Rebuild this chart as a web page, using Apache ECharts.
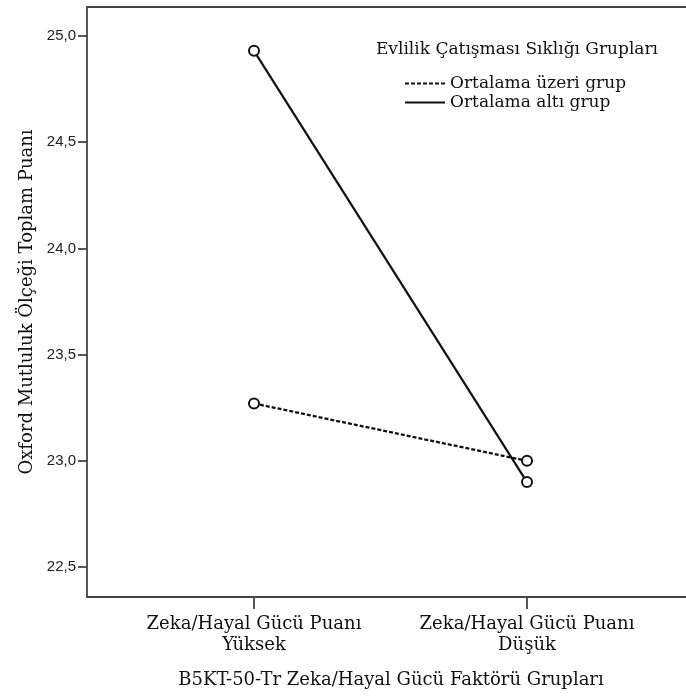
<!DOCTYPE html>
<html><head><meta charset="utf-8">
<script src="https://cdn.jsdelivr.net/npm/echarts@6/dist/echarts.min.js"></script>
<style>html,body{margin:0;padding:0;background:#fff}#c{width:686px;height:700px}</style>
</head><body><div id="c"></div>
<script>
const categories = ['Zeka/Hayal Gücü Puanı\nYüksek', 'Zeka/Hayal Gücü Puanı\nDüşük'];
const seriesNames = ['Ortalama üzeri grup', 'Ortalama altı grup'];
const aboveGroup = [23.27, 23.00];
const belowGroup = [24.93, 22.90];
const yTicks = [22.5, 23.0, 23.5, 24.0, 24.5, 25.0];
const legendTitle = 'Evlilik Çatışması Sıklığı Grupları';
const xTitle = 'B5KT-50-Tr Zeka/Hayal Gücü Faktörü Grupları';
const yTitle = 'Oxford Mutluluk Ölçeği Toplam Puanı';

const serif = 'DejaVu Serif';
const sans = 'Liberation Sans';
const axisColor = '#444';
const toPts = arr => arr.map((v, i) => [i, v]);
const xMin = -0.6117, xMax = 1.5824;
const dashedIcon = 'path://M0,0h4v2h-4zM6,0h4v2h-4zM12,0h4v2h-4zM18,0h4v2h-4zM24,0h4v2h-4zM30,0h4v2h-4zM36,0h4v2h-4z';
const solidIcon = 'path://M0,0h40v2h-40z';

const chart = echarts.init(document.getElementById('c'));
chart.setOption({
  animation: false,
  backgroundColor: '#fff',
  title: {
    text: legendTitle, left: 512, top: 36, textAlign: 'center',
    textStyle: {fontFamily: serif, fontSize: 17, fontWeight: 'normal', color: '#111'}
  },
  legend: {
    orient: 'vertical', left: 400, top: 70, itemGap: 2, itemWidth: 40, itemHeight: 2.5,
    data: [{name: seriesNames[0], icon: dashedIcon}, {name: seriesNames[1], icon: solidIcon}],
    itemStyle: {color: '#111', borderWidth: 0},
    textStyle: {fontFamily: serif, fontSize: 17, color: '#111'}
  },
  grid: {left: 87, top: 7, right: 0, bottom: 103},
  xAxis: [{
    type: 'value', min: xMin, max: xMax,
    name: xTitle, nameLocation: 'middle', nameGap: 74,
    nameTextStyle: {fontFamily: serif, fontSize: 18, color: '#111', padding: [0, 0, 0, 9]},
    splitLine: {show: false},
    axisLine: {onZero: false, lineStyle: {color: axisColor, width: 1.8}},
    axisTick: {customValues: [0, 1], length: 12, lineStyle: {color: axisColor, width: 1.8}},
    axisLabel: {customValues: [0, 1], formatter: v => categories[Math.round(v)] || '', margin: 17,
      fontFamily: serif, fontSize: 18, color: '#111', lineHeight: 21}
  }, {
    type: 'value', position: 'top', min: xMin, max: xMax,
    splitLine: {show: false}, axisTick: {show: false}, axisLabel: {show: false},
    axisLine: {onZero: false, lineStyle: {color: axisColor, width: 1.8}}
  }],
  yAxis: {
    type: 'value', min: 22.359, max: 25.1365,
    name: yTitle, nameLocation: 'middle', nameGap: 50, nameRotate: 90,
    nameTextStyle: {fontFamily: serif, fontSize: 18, color: '#111'},
    splitLine: {show: false},
    axisLine: {onZero: false, lineStyle: {color: axisColor, width: 1.8}},
    axisTick: {customValues: yTicks, length: 9, lineStyle: {color: axisColor, width: 1.8}},
    axisLabel: {customValues: yTicks, formatter: v => v.toFixed(1).replace('.', ','), margin: 11,
      fontFamily: sans, fontSize: 15, color: '#222'}
  },
  series: [
    {name: seriesNames[0], type: 'line', data: toPts(aboveGroup), symbol: 'emptyCircle', symbolSize: 10,
      lineStyle: {color: '#111', width: 2.3, type: [4, 2]}, itemStyle: {color: '#111', borderColor: '#222', borderWidth: 1.6}},
    {name: seriesNames[1], type: 'line', data: toPts(belowGroup), symbol: 'emptyCircle', symbolSize: 10,
      lineStyle: {color: '#111', width: 2.2}, itemStyle: {color: '#111', borderColor: '#222', borderWidth: 1.6}}
  ]
});
</script></body></html>
